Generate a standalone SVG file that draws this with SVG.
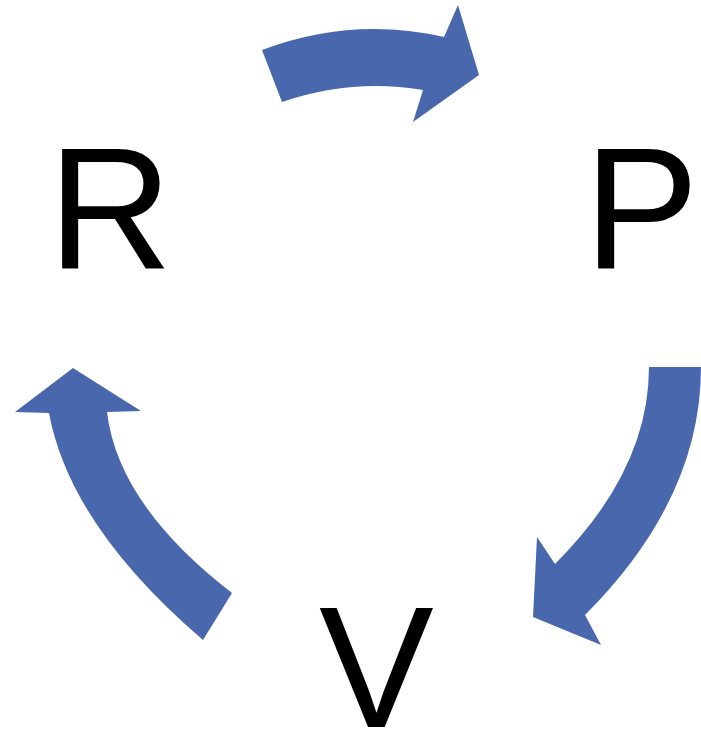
<svg xmlns="http://www.w3.org/2000/svg" width="701" height="731" viewBox="0 0 701 731">
<style>
.arr{fill:#4967ad;stroke:none}
.lbl{font-family:"Liberation Sans",Arial,sans-serif;font-size:172px;fill:#000}
</style>
<rect width="701" height="731" fill="#fff"/>
<g id="connectors">
<path id="arrow-R-P" class="arr" d="M262,50 Q352,16 444,37 L458,5 L479,75 L413,122 L423,90 Q352,78 282,102 Z"/>
<path id="arrow-P-V" class="arr" d="M649,367 L701,367 Q701,499 585,615 L601,645 L533,617 L537,537 L555,564 Q649,470 649,367 Z"/>
<path id="arrow-V-R" class="arr" d="M203,640 Q70,526 49,413 L15,412 L73,368 L141,411 L107,412 Q118,505 232,593 Z"/>
</g>
<g id="node-R"><text class="lbl" x="48" y="268">R</text></g>
<g id="node-P"><text class="lbl" x="584" y="268">P</text></g>
<g id="node-V"><text class="lbl" x="319" y="727">V</text></g>
</svg>
